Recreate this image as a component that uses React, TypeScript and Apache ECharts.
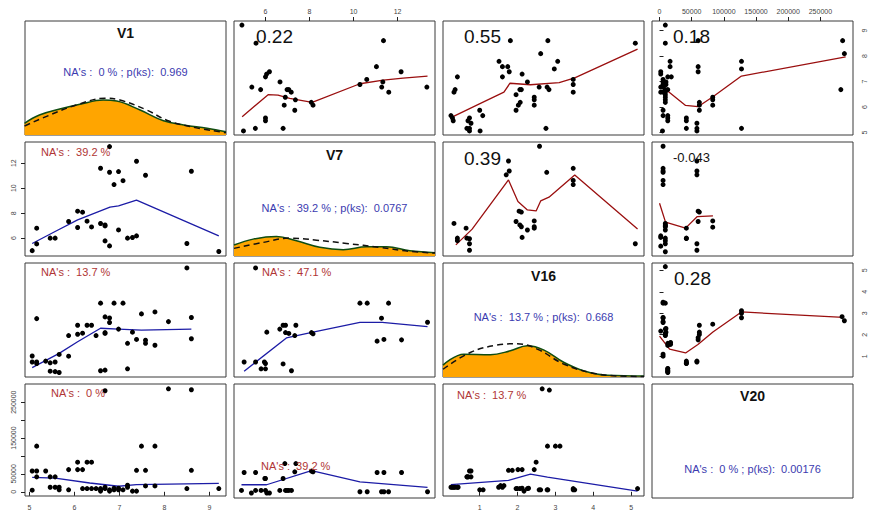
import React, { useEffect, useRef } from "react";
import * as echarts from "echarts";

type P = [number, number][];

// ---------- variables ----------
const VARS = ["V1", "V7", "V16", "V20"];

// ---------- pairwise observations [first var, second var] ----------
const V1_V7: P = [
  [5.06, 5.0], [5.16, 6.8], [5.16, 5.54], [5.46, 6.0], [5.57, 6.0], [5.87, 7.33], [6.07, 8.16], [6.18, 8.08],
  [6.07, 6.85], [6.28, 7.36], [6.38, 6.9], [6.58, 11.6], [6.58, 7.17], [6.68, 7.06], [6.68, 6.98], [6.68, 5.78],
  [6.78, 13.33], [6.78, 11.28], [6.78, 5.38], [6.88, 10.29], [6.98, 11.33], [6.98, 6.66], [7.08, 10.6], [7.18, 6.0],
  [7.29, 6.05], [7.38, 6.18], [7.38, 12.16], [7.58, 11.04], [8.5, 5.57], [8.6, 11.36], [9.21, 4.93],
];
const V1_V16: P = [
  [5.06, 1.01], [5.06, 0.73], [5.16, 2.75], [5.16, 0.73], [5.16, 0.66], [5.36, 0.77], [5.46, 0.69], [5.57, 0.73],
  [5.46, 0.3], [5.57, 0.28], [5.66, 0.24], [5.66, 1.08], [5.87, 1.96], [5.87, 1.0], [6.07, 2.44], [6.07, 2.02],
  [6.18, 2.07], [6.28, 2.44], [6.38, 2.44], [6.48, 1.96], [6.58, 3.47], [6.58, 0.32], [6.68, 2.83], [6.68, 2.1],
  [6.68, 2.06], [6.68, 0.35], [6.78, 2.78], [6.78, 2.57], [6.88, 3.47], [6.98, 2.26], [7.08, 3.47], [7.18, 1.6],
  [7.18, 0.41], [7.29, 2.12], [7.38, 1.78], [7.49, 2.97], [7.58, 1.74], [7.58, 1.6], [7.79, 3.06], [7.79, 1.51],
  [8.09, 2.61], [8.5, 5.11], [8.6, 2.8], [8.6, 1.81],
];
const V1_V20: P = [
  [5.06, 4600], [5.06, 58100], [5.16, 58100], [5.16, 41700], [5.16, 127400], [5.36, 58100], [5.46, 41700],
  [5.46, 12800], [5.57, 41700], [5.57, 12800], [5.66, 12800], [5.66, 5500], [5.87, 5500], [5.87, 61900],
  [6.07, 82700], [6.07, 61900], [6.18, 61900], [6.18, 9000], [6.28, 9000], [6.28, 82700], [6.38, 82700],
  [6.48, 9000], [6.58, 9000], [6.58, 5500], [6.68, 281800], [6.68, 12800], [6.68, 9000], [6.78, 1900],
  [6.78, 5500], [6.88, 5500], [6.98, 5500], [6.98, 10000], [7.08, 5500], [7.18, 12800], [7.18, 18300],
  [7.29, 1900], [7.38, 1900], [7.38, 60000], [7.49, 127400], [7.58, 60000], [7.58, 16400], [7.79, 127400],
  [7.79, 16400], [8.09, 287300], [8.5, 9000], [8.6, 284600], [8.6, 60000], [9.21, 9000], [6.58, 1900],
  [6.88, 10000], [6.38, 9000],
];
const V7_V16: P = [
  [5.55, 5.11], [5.03, 0.73], [5.55, 0.73], [5.8, 0.41], [6.0, 0.41], [5.95, 0.73], [6.0, 0.66], [6.06, 2.12],
  [6.65, 2.26], [6.8, 2.44], [6.91, 2.44], [6.8, 0.64], [6.91, 2.1], [7.06, 2.06], [7.18, 0.32], [7.33, 1.96],
  [7.38, 2.44], [8.09, 2.1], [8.16, 2.04], [10.29, 3.47], [10.62, 3.47], [11.27, 2.77], [11.07, 1.7],
  [11.38, 1.78], [11.59, 3.47], [12.18, 1.76], [13.36, 2.58],
];
const V7_V20: P = [
  [4.91, 9000], [5.03, 58100], [5.36, 1900], [5.55, 58100], [5.55, 9000], [5.8, 9000], [5.97, 41700],
  [6.0, 9000], [6.06, 1900], [6.18, 1900], [6.65, 9000], [6.8, 41700], [6.88, 82700], [6.91, 9000],
  [7.06, 9000], [7.18, 9000], [7.33, 60000], [7.38, 82700], [8.09, 61900], [8.16, 60000], [10.29, 5500],
  [10.62, 5500], [11.07, 58100], [11.27, 5500], [11.38, 5500], [11.38, 58100], [11.59, 5500], [12.18, 58100],
  [13.36, 5500], [6.0, 41700], [6.98, 9000],
];
const V16_V20: P = [
  [0.24, 12800], [0.31, 12800], [0.43, 12800], [0.67, 41700], [0.77, 41700], [0.77, 58100], [1.0, 5500],
  [1.09, 5500], [1.55, 17200], [1.64, 17200], [1.76, 60000], [1.86, 60000], [1.99, 9000], [2.01, 61900],
  [2.12, 61900], [2.12, 10000], [2.17, 1900], [2.29, 10000], [2.06, 9000], [2.49, 82700], [2.61, 5500],
  [2.8, 5500], [2.65, 287300], [2.84, 283700], [2.79, 127400], [3.0, 127400], [3.12, 127400], [3.51, 5500],
  [5.17, 9000], [3.47, 5500], [3.47, 9000], [2.57, 5500], [2.78, 5500], [2.26, 9000], [1.96, 9000],
  [1.6, 12800], [1.5, 12800], [0.7, 41700], [0.66, 41700], [0.41, 12800], [0.35, 12800], [0.28, 12800],
  [2.44, 61900], [0.73, 58100],
];

// ---------- smoothed lines: lower panels (blue), [x var, y var] ----------
const LOW_V7_ON_V1: P = [[5.06, 5.57], [5.57, 6.53], [6.07, 7.46], [6.79, 8.48], [6.98, 8.58], [7.38, 9.04], [9.21, 6.18]];
const LOW_V16_ON_V1: P = [[5.06, 0.47], [5.66, 1.13], [6.07, 1.67], [6.58, 2.3], [6.98, 2.26], [7.49, 2.21], [8.6, 2.26]];
const LOW_V20_ON_V1: P = [[5.06, 40100], [5.57, 38200], [6.34, 24600], [6.98, 15500], [7.38, 19900], [9.21, 23700]];
const LOW_V16_ON_V7: P = [[5.03, 0.3], [6.95, 1.85], [8.16, 2.12], [10.29, 2.57], [11.3, 2.57], [13.36, 2.38]];
const LOW_V20_ON_V7: P = [[4.91, 24600], [6.05, 24600], [8.09, 63600], [10.29, 32700], [13.36, 17200]];
const LOW_V20_ON_V16: P = [[0.24, 19900], [1.76, 31900], [2.34, 49100], [2.79, 40900], [5.17, 1900]];

// ---------- smoothed lines: upper panels (dark red), [x var, y var] ----------
const UP_V1_ON_V7: P = [[4.94, 5.62], [6.12, 6.48], [6.57, 6.46], [7.1, 6.34], [8.12, 6.18], [10.29, 6.91], [11.35, 7.05], [12.25, 7.13], [13.36, 7.21]];
const UP_V1_ON_V16: P = [[0.24, 5.58], [1.02, 6.14], [1.64, 6.58], [1.8, 6.93], [2.34, 6.87], [3.1, 6.95], [3.51, 7.14], [5.17, 8.27]];
const UP_V1_ON_V20: P = [[0, 6.84], [7800, 6.72], [40500, 6.06], [59700, 6.01], [83000, 6.4], [127300, 7.21], [289300, 7.96]];
const UP_V7_ON_V16: P = [[0.37, 5.46], [0.8, 6.72], [1.76, 10.66], [2.01, 8.93], [2.26, 8.26], [2.49, 8.18], [2.61, 8.98], [2.83, 9.28], [3.51, 11.06], [5.17, 6.74]];
const UP_V7_ON_V20: P = [[0, 8.8], [9300, 7.28], [40500, 6.8], [58700, 7.73], [83000, 7.78]];
const UP_V16_ON_V20: P = [[0, 1.93], [15600, 1.33], [40500, 1.15], [59700, 1.54], [83000, 2.13], [127300, 3.06], [285500, 2.81]];

// ---------- densities on the diagonal: [value, relative height] ----------
const KDE_V1: P = [[4.89, 0.103], [5.22, 0.175], [5.74, 0.234], [6.12, 0.269], [6.64, 0.307], [6.94, 0.298], [7.46, 0.219], [7.98, 0.125], [8.43, 0.088], [8.95, 0.059], [9.37, 0.029]];
const NORM_V1: P = [[4.89, 0.079], [5.45, 0.175], [6.04, 0.263], [6.68, 0.322], [7.01, 0.307], [7.61, 0.219], [8.05, 0.13], [8.58, 0.073], [9.37, 0.02]];
const KDE_V7: P = [[4.57, 0.096], [5.44, 0.148], [6.5, 0.171], [7.41, 0.133], [8.47, 0.076], [9.53, 0.055], [10.59, 0.081], [11.5, 0.081], [12.56, 0.046], [13.7, 0.029]];
const NORM_V7: P = [[4.57, 0.067], [5.89, 0.119], [7.1, 0.157], [8.32, 0.139], [9.68, 0.11], [11.2, 0.076], [12.56, 0.041], [13.7, 0.026]];
const KDE_V16: P = [[0.03, 0.104], [0.58, 0.2], [1.28, 0.195], [1.81, 0.23], [2.26, 0.274], [2.7, 0.236], [3.23, 0.127], [3.76, 0.053], [4.38, 0.015], [5.34, 0.009]];
const NORM_V16: P = [[0.03, 0.068], [0.75, 0.215], [1.46, 0.28], [1.99, 0.292], [2.52, 0.245], [3.23, 0.112], [3.94, 0.038], [4.64, 0.009], [5.34, 0.005]];

// ---------- texts ----------
const DIAG_TEXT = [
  "NA's :  0 % ; p(ks):  0.969",
  "NA's :  39.2 % ; p(ks):  0.0767",
  "NA's :  13.7 % ; p(ks):  0.668",
  "NA's :  0 % ; p(ks):  0.00176",
];
const CORR_TEXT = { "0|1": "0.22", "0|2": "0.55", "0|3": "0.18", "1|2": "0.39", "1|3": "-0.043", "2|3": "0.28" } as Record<string, string>;
const LOWER_NA = { "1|0": "NA's :  39.2 %", "2|0": "NA's :  13.7 %", "2|1": "NA's :  47.1 %", "3|0": "NA's :  0 %", "3|1": "NA's :  39.2 %", "3|2": "NA's :  13.7 %" } as Record<string, string>;

// ---------- tick values ----------
const TICKS_V1 = [5, 6, 7, 8, 9];
const TICKS_V7 = [6, 8, 10, 12];
const TICKS_V16 = [1, 2, 3, 4, 5];
const TICKS_V20 = [0, 50000, 100000, 150000, 200000, 250000];
const LABELS_V20_LEFT = [0, 50000, 150000, 250000];

// ---------- layout / scales ----------
const RANGE: Record<string, [number, number]> = {
  V1: [4.9, 9.37],
  V7: [4.57, 13.7],
  V16: [0.03, 5.34],
  V20: [-11700, 300700],
};
const COL_LEFT = [25, 234, 443, 652];
const ROW_TOP = [21, 142, 263, 384];
const PW = 201;
const PH = 114;
const FONT = '"Liberation Sans", Arial, Helvetica, sans-serif';
const RED = "#9a0f0f";
const BLUE = "#1c1ca6";
const TXT_BLUE = "#3b3bb0";
const TXT_RED = "#b03535";

const PAIRS: Record<string, P> = {
  "0|1": V1_V7, "0|2": V1_V16, "0|3": V1_V20, "1|2": V7_V16, "1|3": V7_V20, "2|3": V16_V20,
};
const LOWER_FIT: Record<string, P> = {
  "0|1": LOW_V7_ON_V1, "0|2": LOW_V16_ON_V1, "0|3": LOW_V20_ON_V1, "1|2": LOW_V16_ON_V7, "1|3": LOW_V20_ON_V7, "2|3": LOW_V20_ON_V16,
};
const UPPER_FIT: Record<string, P> = {
  "0|1": UP_V1_ON_V7, "0|2": UP_V1_ON_V16, "0|3": UP_V1_ON_V20, "1|2": UP_V7_ON_V16, "1|3": UP_V7_ON_V20, "2|3": UP_V16_ON_V20,
};
const DENS: [P, P][] = [[KDE_V1, NORM_V1], [KDE_V7, NORM_V7], [KDE_V16, NORM_V16]];

// text anchor offsets inside panels (pixels)
const DIAG_TITLE_DY = [12, 13, 13, 12];
const DIAG_NA_DY = [51, 66, 54, 85];
const CORR_POS: Record<string, [number, number, number]> = {
  "0|1": [22, 15, 19], "0|2": [21, 15, 19], "0|3": [21, 15, 19],
  "1|2": [21, 16, 19], "1|3": [21, 15, 13], "2|3": [22, 15, 19],
};
const NA_POS: Record<string, [number, number]> = {
  "1|0": [16, 10], "2|0": [16, 9], "2|1": [28, 9], "3|0": [26, 9], "3|1": [27, 82], "3|2": [14, 11],
};

const swap = (d: P): P => d.map(([a, b]) => [b, a] as [number, number]);

function axisCfg(kind: "x" | "y", gridIndex: number, v: string, r: number, c: number) {
  const [min, max] = RANGE[v];
  let ticks: number[] | null = null;
  let labels: number[] | null = null;
  let position: string | undefined;
  if (kind === "x") {
    if (r === 0 && c === 1) { ticks = TICKS_V7; position = "top"; }
    if (r === 0 && c === 3) { ticks = TICKS_V20; position = "top"; }
    if (r === 3 && c === 0) { ticks = TICKS_V1; position = "bottom"; }
    if (r === 3 && c === 2) { ticks = TICKS_V16; position = "bottom"; }
  } else {
    if (r === 1 && c === 0) { ticks = TICKS_V7; position = "left"; }
    if (r === 3 && c === 0) { ticks = TICKS_V20; labels = LABELS_V20_LEFT; position = "left"; }
    if (r === 0 && c === 3) { ticks = TICKS_V1; position = "right"; }
    if (r === 2 && c === 3) { ticks = TICKS_V16; position = "right"; }
  }
  const base: any = { type: "value", gridIndex, min, max, splitLine: { show: false } };
  if (!ticks) return { ...base, show: false };
  return {
    ...base,
    show: true,
    position,
    axisLine: { show: false },
    axisTick: { show: true, length: 4, customValues: ticks, lineStyle: { color: "#222", width: 1 } },
    axisLabel: {
      customValues: labels || ticks,
      formatter: (val: number) => String(val),
      fontSize: 7,
      color: "#444",
      fontFamily: FONT,
      margin: kind === "x" ? (position === "top" ? 6 : 8) : 8,
      rotate: kind === "y" ? 90 : 0,
    },
  };
}

export default function App() {
  const ref = useRef<HTMLDivElement>(null);
  useEffect(() => {
    if (!ref.current) return;
    const chart = echarts.init(ref.current, undefined, { renderer: "svg" });
    const grids: any[] = [];
    const xAxes: any[] = [];
    const yAxes: any[] = [];
    const series: any[] = [];
    const graphics: any[] = [];

    for (let r = 0; r < 4; r++) {
      for (let c = 0; c < 4; c++) {
        const gi = r * 4 + c;
        grids.push({
          left: COL_LEFT[c], top: ROW_TOP[r], width: PW, height: PH,
          show: true, borderColor: "#3a3a3a", borderWidth: 1, backgroundColor: "transparent",
        });
        const xv = VARS[c];
        const yv = VARS[r];
        if (r === c) {
          xAxes.push({ type: "value", gridIndex: gi, min: RANGE[xv][0], max: RANGE[xv][1], show: false });
          yAxes.push({ type: "value", gridIndex: gi, min: 0, max: 1, show: false });
          if (r < 3) {
            const [kde, norm] = DENS[r];
            series.push({
              type: "line", xAxisIndex: gi, yAxisIndex: gi, data: kde, showSymbol: false, smooth: 0.4,
              lineStyle: { color: "#0f4d12", width: 1.5 }, areaStyle: { color: "#FFA500", opacity: 1 }, z: 2,
            });
            series.push({
              type: "line", xAxisIndex: gi, yAxisIndex: gi, data: norm, showSymbol: false, smooth: 0.4,
              lineStyle: { color: "#111", width: 1.5, type: [6, 4] }, z: 3,
            });
          }
          const cx = COL_LEFT[c] + PW / 2;
          graphics.push({
            type: "text", x: cx, y: ROW_TOP[r] + DIAG_TITLE_DY[r],
            style: { text: VARS[r], fill: "#111", font: `bold 14px ${FONT}`, textAlign: "center", textVerticalAlign: "middle" },
          });
          graphics.push({
            type: "text", x: cx, y: ROW_TOP[r] + DIAG_NA_DY[r],
            style: { text: DIAG_TEXT[r], fill: TXT_BLUE, font: `11px ${FONT}`, textAlign: "center", textVerticalAlign: "middle" },
          });
          continue;
        }
        xAxes.push(axisCfg("x", gi, xv, r, c));
        yAxes.push(axisCfg("y", gi, yv, r, c));
        if (r > c) {
          const key = `${c}|${r}`;
          series.push({
            type: "scatter", xAxisIndex: gi, yAxisIndex: gi, data: PAIRS[key], symbolSize: 5,
            itemStyle: { color: "#000", opacity: 1 }, z: 3,
          });
          series.push({
            type: "line", xAxisIndex: gi, yAxisIndex: gi, data: LOWER_FIT[key], showSymbol: false,
            lineStyle: { color: BLUE, width: 1.3 }, z: 2,
          });
          const nk = `${r}|${c}`;
          const [dx, dy] = NA_POS[nk];
          graphics.push({
            type: "text", x: COL_LEFT[c] + dx, y: ROW_TOP[r] + dy,
            style: { text: LOWER_NA[nk], fill: TXT_RED, font: `11px ${FONT}`, textAlign: "left", textVerticalAlign: "middle" },
            z: 10,
          });
        } else {
          const key = `${r}|${c}`;
          series.push({
            type: "scatter", xAxisIndex: gi, yAxisIndex: gi, data: swap(PAIRS[key]), symbolSize: 5,
            itemStyle: { color: "#000", opacity: 1 }, z: 3,
          });
          series.push({
            type: "line", xAxisIndex: gi, yAxisIndex: gi, data: UPPER_FIT[key], showSymbol: false,
            lineStyle: { color: RED, width: 1.3 }, z: 2,
          });
          const [dx, dy, fs] = CORR_POS[key];
          graphics.push({
            type: "text", x: COL_LEFT[c] + dx, y: ROW_TOP[r] + dy,
            style: { text: CORR_TEXT[key], fill: "#111", font: `${fs}px ${FONT}`, textAlign: "left", textVerticalAlign: "middle" },
            z: 10,
          });
        }
      }
    }

    chart.setOption({
      animation: false,
      backgroundColor: "#ffffff",
      textStyle: { fontFamily: FONT },
      grid: grids,
      xAxis: xAxes,
      yAxis: yAxes,
      series,
      graphic: graphics,
    });
    return () => chart.dispose();
  }, []);
  return <div ref={ref} style={{ position: "fixed", left: 0, top: 0, width: 870, height: 511 }} />;
}
